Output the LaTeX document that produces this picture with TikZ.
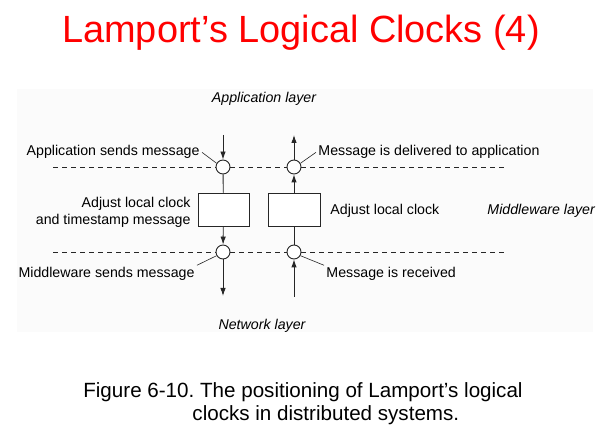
\documentclass[tikz,border=0pt]{standalone}
\usepackage{fontspec}
\setmainfont{Liberation Sans}
\usepackage{tikz}
\usetikzlibrary{arrows.meta}
\tikzset{>={Latex[length=8pt,width=5.5pt]}}
\newcommand{\lblfont}{\fontsize{14.2}{17}\selectfont}
\newcommand{\capfont}{\fontsize{20.6}{23.5}\selectfont}
\frenchspacing

\begin{document}
\begin{tikzpicture}[x=1pt,y=-1pt,line width=0.9pt,draw=black!85,
    clk/.style={circle,draw,fill=white,minimum size=14pt,inner sep=0pt},
    adj/.style={draw,fill=white,minimum width=51pt,minimum height=33pt,inner sep=0pt},
    lbl/.style={font=\lblfont,inner sep=2pt},
    lay/.style={font=\lblfont\itshape,inner sep=0pt}]
      \useasboundingbox (0,0) rectangle (600,427);
      \fill[black!1.5] (17,89) rectangle (593,332);
      \node[anchor=base,text=red,font=\fontsize{37.9}{45}\selectfont,inner sep=0pt] (title) at (301,43) {Lamport’s Logical Clocks (4)};
      % layers
      \node[lay,anchor=base] (applay) at (264,103) {Application layer};
      \node[lay,anchor=base west] (mwlay) at (487,215) {Middleware layer};
      \node[lay,anchor=base] (netlay) at (262,330) {Network layer};
      % clocks and boxes
      \node[clk] (c1) at (223,167) {};
      \node[clk] (c2) at (294,167) {};
      \node[clk] (c3) at (223,252) {};
      \node[clk] (c4) at (294,252) {};
      \node[adj] (b1) at (223.5,209.5) {};
      \node[adj,minimum width=52pt] (b2) at (294,209.5) {};
      \coordinate (ta) at (223,135);
      \coordinate (tb) at (294,135);
      \coordinate (ba) at (223,296);
      \coordinate (bb) at (294,297);
      \coordinate (d1) at (53,167);
      \coordinate (d2) at (507,167);
      \coordinate (d3) at (53,252);
      \coordinate (d4) at (507,252);
      \draw[line width=0.6pt,dash pattern=on 5pt off 4pt] (d1) -- (c1) -- (c2) -- (d2);
      \draw[line width=0.6pt,dash pattern=on 5pt off 4pt] (d3) -- (c3) -- (c4) -- (d4);
      % sender side
      \draw[->] (ta) -- (c1);
      \draw (c1) -- (b1);
      \draw[->] (b1) -- (c3);
      \draw[->] (c3) -- (ba);
      % receiver side
      \draw[->] (bb) -- (c4);
      \draw (c4) -- (b2);
      \draw[->] (b2) -- (c2);
      \draw[->] (c2) -- (tb);
      % labels
      \node[lbl,anchor=base east] (appsend) at (202,156) {Application sends message};
      \node[lbl,anchor=base west] (deliv) at (316,156) {Message is delivered to application};
      \node[lbl,anchor=north east,align=right,inner sep=0pt] (adjts) at (191,196.6) {Adjust local clock\\and timestamp message};
      \node[lbl,anchor=base west,inner sep=0pt] (adjloc) at (330,215) {Adjust local clock};
      \node[lbl,anchor=base east] (mwsend) at (197,278) {Middleware sends message};
      \node[lbl,anchor=base west] (recv) at (324,278) {Message is received};
      \draw[line width=0.6pt] (appsend.east) -- (c1.150);
      \draw[line width=0.6pt] (deliv.west) -- (c2.30);
      \draw[line width=0.6pt] (mwsend.north east) -- (c3.210);
      \draw[line width=0.6pt] (recv.north west) -- (c4.330);
      % caption
      \node[anchor=base,inner sep=0pt,font=\capfont] (cap1) at (303,398) {Figure 6-10. The positioning of Lamport’s logical};
      \node[anchor=base west,inner sep=0pt,font=\capfont] (cap2) at (192,421) {clocks in distributed systems.};
\end{tikzpicture}
\end{document}
